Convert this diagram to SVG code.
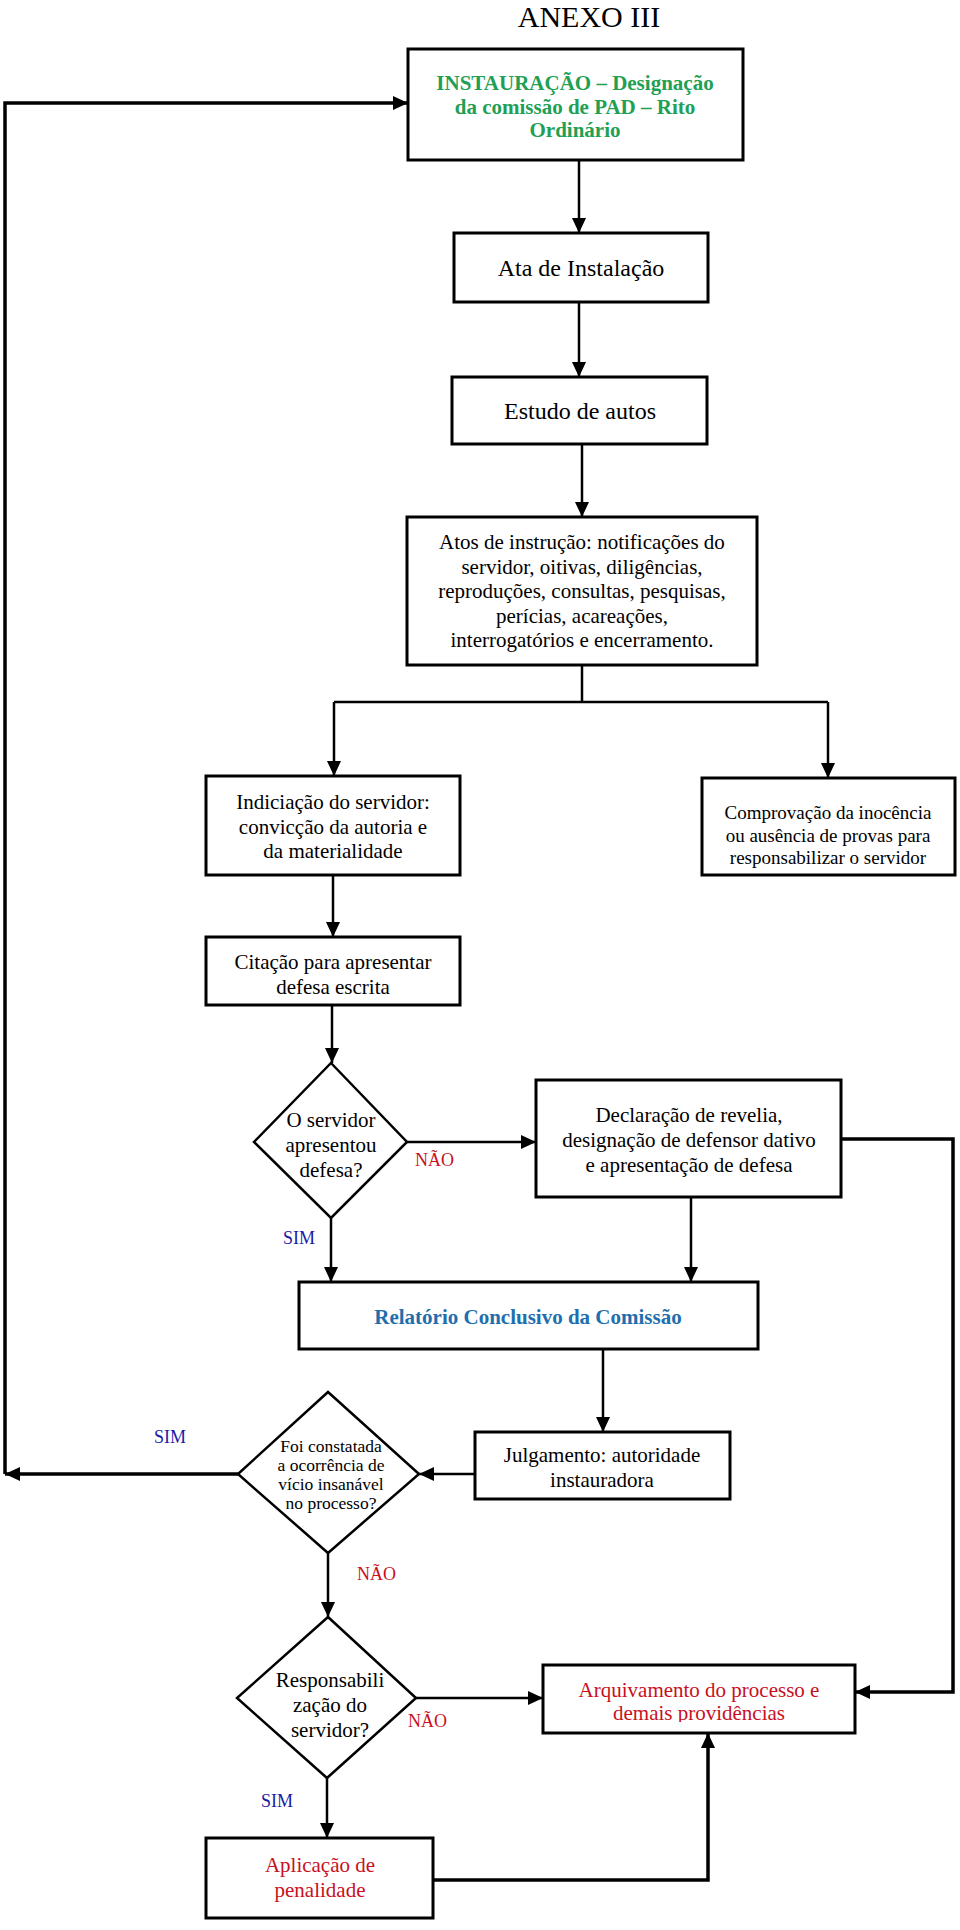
<svg xmlns="http://www.w3.org/2000/svg" width="960" height="1930" viewBox="0 0 960 1930">
<style>
  .box { fill: #ffffff; stroke: #000000; stroke-width: 3; }
  .dia { fill: #ffffff; stroke: #000000; stroke-width: 2.5; }
  .t { font-family: "Liberation Serif", "Times New Roman", serif; font-size: 21px; fill: #000000; text-anchor: middle; }
  .big { font-size: 24px; }
  .sm { font-size: 19px; }
  .xs { font-size: 17.5px; }
  .green { fill: #1fa055; font-weight: bold; }
  .blueb { fill: #1f6fae; font-weight: bold; }
  .red { fill: #c8101e; }
  .lbl { font-family: "Liberation Serif", "Times New Roman", serif; font-size: 18px; text-anchor: start; }
  .yes { fill: #1a1aa8; }
  .no { fill: #c8101e; }
  .c { fill: none; stroke: #000000; stroke-width: 2.5; }
  .fb { fill: none; stroke: #000000; stroke-width: 3.5; }
</style>
<defs>
  <marker id="ah" markerUnits="userSpaceOnUse" markerWidth="16" markerHeight="16" viewBox="0 0 16 16" refX="15" refY="8" orient="auto">
    <path d="M0,1 L15,8 L0,15 Z" fill="#000000"/>
  </marker>
  <clipPath id="clip11">
    <rect x="543" y="1665" width="312" height="57"/>
  </clipPath>
</defs>
<rect width="960" height="1930" fill="#ffffff"/>

<text x="589" y="27" class="t" style="font-size:30px">ANEXO III</text>

<g id="connectors">
  <polyline class="c" points="579,160 579,233" marker-end="url(#ah)"/>
  <polyline class="c" points="579,302 579,377" marker-end="url(#ah)"/>
  <polyline class="c" points="582,444 582,517" marker-end="url(#ah)"/>
  <polyline class="c" points="582,665 582,702"/>
  <polyline class="c" points="334,702 828,702"/>
  <polyline class="c" points="334,702 334,776" marker-end="url(#ah)"/>
  <polyline class="c" points="828,702 828,778" marker-end="url(#ah)"/>
  <polyline class="c" points="333,875 333,937" marker-end="url(#ah)"/>
  <polyline class="c" points="332,1005 332,1063" marker-end="url(#ah)"/>
  <polyline class="c" points="407,1142 536,1142" marker-end="url(#ah)"/>
  <polyline class="c" points="331,1218 331,1282" marker-end="url(#ah)"/>
  <polyline class="c" points="691,1197 691,1282" marker-end="url(#ah)"/>
  <polyline class="fb" points="841,1139 953,1139 953,1692 855,1692" marker-end="url(#ah)"/>
  <polyline class="c" points="603,1349 603,1432" marker-end="url(#ah)"/>
  <polyline class="c" points="475,1474 419,1474" marker-end="url(#ah)"/>
  <polyline class="fb" points="238,1474 5,1474" marker-end="url(#ah)"/>
  <polyline class="fb" points="5,1474 5,103 408,103" marker-end="url(#ah)"/>
  <polyline class="c" points="328,1553 328,1617" marker-end="url(#ah)"/>
  <polyline class="c" points="416,1698 543,1698" marker-end="url(#ah)"/>
  <polyline class="c" points="327,1778 327,1838" marker-end="url(#ah)"/>
  <polyline class="fb" points="433,1880 708,1880 708,1733" marker-end="url(#ah)"/>
</g>

<g id="labels">
  <text x="415" y="1166" class="lbl no">NÃO</text>
  <text x="283" y="1244" class="lbl yes">SIM</text>
  <text x="154" y="1443" class="lbl yes">SIM</text>
  <text x="357" y="1580" class="lbl no">NÃO</text>
  <text x="408" y="1727" class="lbl no">NÃO</text>
  <text x="261" y="1807" class="lbl yes">SIM</text>
</g>

<g id="n1">
  <rect class="box" x="408" y="49" width="335" height="111"/>
  <text class="t green" x="575" y="90">INSTAURAÇÃO – Designação</text>
  <text class="t green" x="575" y="114">da comissão de PAD – Rito</text>
  <text class="t green" x="575" y="137">Ordinário</text>
</g>
<g id="n2">
  <rect class="box" x="454" y="233" width="254" height="69"/>
  <text class="t big" x="581" y="276">Ata de Instalação</text>
</g>
<g id="n3">
  <rect class="box" x="452" y="377" width="255" height="67"/>
  <text class="t big" x="580" y="419">Estudo de autos</text>
</g>
<g id="n4">
  <rect class="box" x="407" y="517" width="350" height="148"/>
  <text class="t" x="582" y="549">Atos de instrução: notificações do</text>
  <text class="t" x="582" y="573.5">servidor, oitivas, diligências,</text>
  <text class="t" x="582" y="598">reproduções, consultas, pesquisas,</text>
  <text class="t" x="582" y="622.5">perícias, acareações,</text>
  <text class="t" x="582" y="647">interrogatórios e encerramento.</text>
</g>
<g id="n5">
  <rect class="box" x="206" y="776" width="254" height="99"/>
  <text class="t" x="333" y="809">Indiciação do servidor:</text>
  <text class="t" x="333" y="833.5">convicção da autoria e</text>
  <text class="t" x="333" y="858">da materialidade</text>
</g>
<g id="n6">
  <rect class="box" x="702" y="778" width="253" height="97"/>
  <text class="t sm" x="828" y="819">Comprovação da inocência</text>
  <text class="t sm" x="828" y="842">ou ausência de provas para</text>
  <text class="t sm" x="828" y="864">responsabilizar o servidor</text>
</g>
<g id="n7">
  <rect class="box" x="206" y="937" width="254" height="68"/>
  <text class="t" x="333" y="969">Citação para apresentar</text>
  <text class="t" x="333" y="994">defesa escrita</text>
</g>
<g id="n8">
  <polygon class="dia" points="331,1063 407,1142 331,1218 254,1142"/>
  <text class="t" x="331" y="1127">O servidor</text>
  <text class="t" x="331" y="1152">apresentou</text>
  <text class="t" x="331" y="1177">defesa?</text>
</g>
<g id="n9">
  <rect class="box" x="536" y="1080" width="305" height="117"/>
  <text class="t" x="689" y="1122">Declaração de revelia,</text>
  <text class="t" x="689" y="1147">designação de defensor dativo</text>
  <text class="t" x="689" y="1172">e apresentação de defesa</text>
</g>
<g id="n10">
  <rect class="box" x="299" y="1282" width="459" height="67"/>
  <text class="t blueb" x="528" y="1324">Relatório Conclusivo da Comissão</text>
</g>
<g id="n11">
  <rect class="box" x="475" y="1432" width="255" height="67"/>
  <text class="t" x="602" y="1462">Julgamento: autoridade</text>
  <text class="t" x="602" y="1487">instauradora</text>
</g>
<g id="n12">
  <polygon class="dia" points="328,1392 419,1474 328,1553 238,1474"/>
  <text class="t xs" x="331" y="1452">Foi constatada</text>
  <text class="t xs" x="331" y="1471">a ocorrência de</text>
  <text class="t xs" x="331" y="1490">vício insanável</text>
  <text class="t xs" x="331" y="1509">no processo?</text>
</g>
<g id="n13">
  <polygon class="dia" points="328,1617 416,1698 327,1778 237,1698"/>
  <text class="t" x="330" y="1687">Responsabili</text>
  <text class="t" x="330" y="1712">zação do</text>
  <text class="t" x="330" y="1737">servidor?</text>
</g>
<g id="n14">
  <rect class="box" x="543" y="1665" width="312" height="68"/>
  <g clip-path="url(#clip11)">
    <text class="t red" x="699" y="1697">Arquivamento do processo e</text>
    <text class="t red" x="699" y="1720">demais providências</text>
  </g>
</g>
<g id="n15">
  <rect class="box" x="206" y="1838" width="227" height="80"/>
  <text class="t red" x="320" y="1872">Aplicação de</text>
  <text class="t red" x="320" y="1897">penalidade</text>
</g>
</svg>
